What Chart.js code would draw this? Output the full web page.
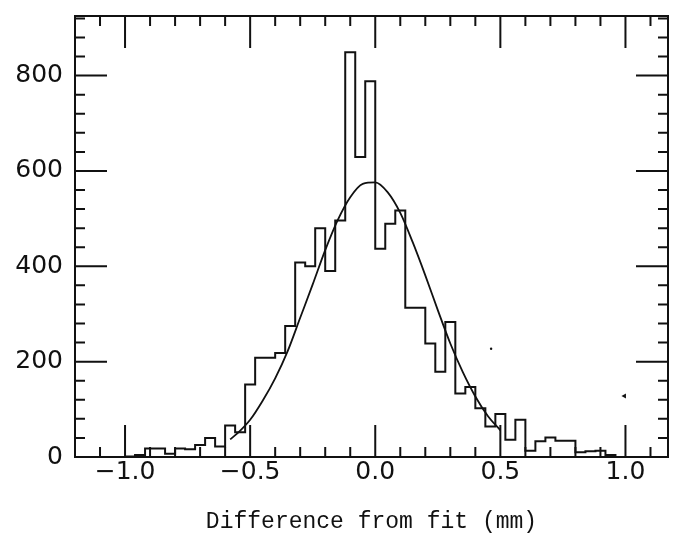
<!DOCTYPE html>
<html>
<head>
<meta charset="utf-8">
<script src="https://cdn.jsdelivr.net/npm/chart.js@4.4.1/dist/chart.umd.min.js"></script>
<style>
  html, body { margin: 0; padding: 0; background: #fff; }
  #wrap { width: 674px; height: 540px; position: relative; }
</style>
</head>
<body>
<div id="wrap"><canvas id="c" width="674" height="540"></canvas></div>
<script>
// Histogram bin left edges (width 0.04) and counts
const binEdges = [-1.00,-0.96,-0.92,-0.88,-0.84,-0.80,-0.76,-0.72,-0.68,-0.64,-0.60,-0.56,-0.52,-0.48,-0.44,-0.40,-0.36,-0.32,-0.28,-0.24,-0.20,-0.16,-0.12,-0.08,-0.04,0.00,0.04,0.08,0.12,0.16,0.20,0.24,0.28,0.32,0.36,0.40,0.44,0.48,0.52,0.56,0.60,0.64,0.68,0.72,0.76,0.80,0.84,0.88,0.92,0.96,1.00];
const binCounts = [1,1,4,18,18,7,18,16,25,40,22,66,52,152,208,208,218,275,408,400,480,390,496,849,629,788,437,489,517,313,313,238,179,283,133,147,102,64,90,36,78,13,33,41,34,34,10,12,13,4,0];

// Fitted curve
const fitX = [-0.58,-0.55,-0.50,-0.45,-0.40,-0.35,-0.30,-0.25,-0.20,-0.15,-0.10,-0.05,0.00,0.05,0.10,0.15,0.20,0.25,0.30,0.35,0.40,0.45,0.50];
const fitY = [37,50,78,118,165,222,292,362,434,497,545,573,576,555,512,450,381,308,238,178,127,86,56];

// Stray specks on the scan
const speckX = [0.463, 0.996];
const speckY = [227, 128];

const xTickValues = [-1.0,-0.5,0.0,0.5,1.0];
const yTickValues = [0,200,400,600,800];
const xTitle = "Difference from fit (mm)";

const ink = '#111';
const histData = binEdges.map((e,i)=>({x:e, y:binCounts[i]}));
const fitData = fitX.map((x,i)=>({x:x, y:fitY[i]}));
const speckData = speckX.map((x,i)=>({x:x, y:speckY[i]}));

const framePlugin = {
  id: 'frame',
  afterDatasetsDraw(chart) {
    const {ctx, chartArea: a, scales: {x, y}} = chart;
    ctx.save();
    ctx.strokeStyle = ink;
    ctx.lineWidth = 2;
    ctx.strokeRect(a.left, a.top, a.right - a.left, a.bottom - a.top);
    ctx.beginPath();
    for (let k = -11; k <= 11; k++) {
      const v = k / 10;
      const px = x.getPixelForValue(v);
      if (px < a.left + 1 || px > a.right - 1) continue;
      const len = (k % 5 === 0) ? 32 : 10;
      ctx.moveTo(px, a.bottom); ctx.lineTo(px, a.bottom - len);
      ctx.moveTo(px, a.top); ctx.lineTo(px, a.top + len);
    }
    for (let v = 0; v <= 920; v += 40) {
      const py = y.getPixelForValue(v);
      if (py < a.top + 1 || py > a.bottom - 1) continue;
      const len = (v % 200 === 0) ? 32 : 10;
      ctx.moveTo(a.left, py); ctx.lineTo(a.left + len, py);
      ctx.moveTo(a.right, py); ctx.lineTo(a.right - len, py);
    }
    ctx.stroke();
    ctx.restore();
  }
};

new Chart(document.getElementById('c'), {
  type: 'line',
  data: {
    datasets: [
      { label: 'hist', data: histData, stepped: 'after', borderColor: ink, borderWidth: 2, pointRadius: 0, fill: false },
      { label: 'fit', data: fitData, borderColor: ink, borderWidth: 1.8, pointRadius: 0, cubicInterpolationMode: 'monotone', fill: false },
      { label: 'specks', type: 'scatter', data: speckData, backgroundColor: ink, borderWidth: 0, pointRadius: [1.2, 3], pointStyle: ['circle','triangle'], rotation: [0, -90] }
    ]
  },
  options: {
    responsive: false,
    animation: false,
    devicePixelRatio: 1,
    layout: { padding: { top: 16, right: 6, left: 0, bottom: 0 } },
    plugins: { legend: { display: false }, tooltip: { enabled: false } },
    scales: {
      x: {
        type: 'linear', min: -1.2, max: 1.17,
        afterBuildTicks: s => { s.ticks = xTickValues.map(v => ({value: v})); },
        afterFit: s => { s.height = 83; s.paddingLeft = 0; s.paddingRight = 0; },
        grid: { display: false, drawTicks: false },
        border: { display: false },
        ticks: {
          padding: 3, color: ink, maxRotation: 0, autoSkip: false,
          font: { family: 'DejaVu Sans', size: 25, lineHeight: 1 },
          callback: v => (v < 0 ? '\u2212' : '') + Math.abs(v).toFixed(1)
        },
        title: { display: true, text: xTitle, color: ink, font: { family: 'Liberation Mono', size: 23 }, padding: { top: 4, bottom: 4 } }
      },
      y: {
        type: 'linear', min: 0, max: 925,
        afterBuildTicks: s => { s.ticks = yTickValues.map(v => ({value: v})); },
        afterFit: s => { s.width = 75; s.paddingTop = 0; s.paddingBottom = 0; },
        grid: { display: false, drawTicks: false },
        border: { display: false },
        ticks: { padding: 12, color: ink, font: { family: 'DejaVu Sans', size: 25 } }
      }
    }
  },
  plugins: [framePlugin]
});
</script>
</body>
</html>
